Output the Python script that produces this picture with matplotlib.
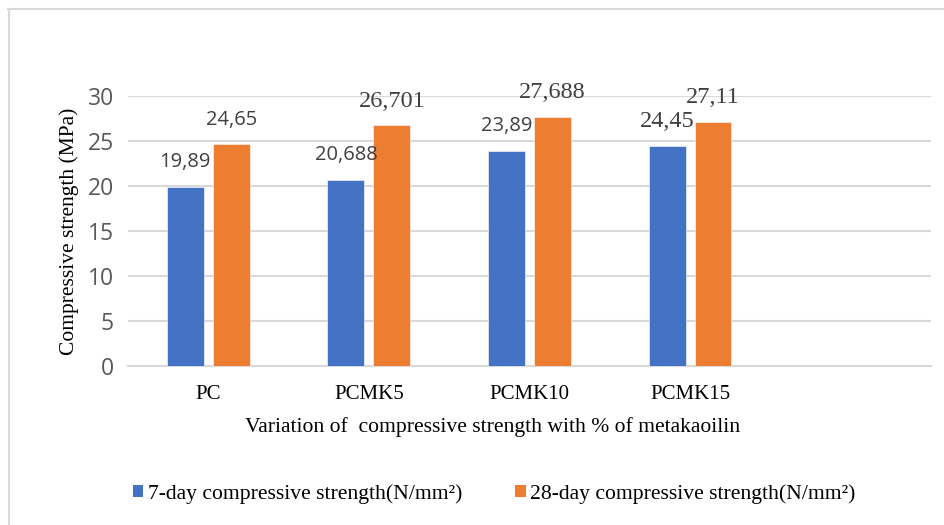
import matplotlib
matplotlib.use("Agg")
import matplotlib.pyplot as plt
from matplotlib.patches import Patch
from matplotlib.lines import Line2D
import numpy as np

# mixes and strengths (MPa); the fifth slot on the axis is left empty
mixes = ["PC", "PCMK5", "PCMK10", "PCMK15", ""]
strength_7d = [19.89, 20.688, 23.89, 24.45]
strength_28d = [24.65, 26.701, 27.688, 27.11]
# font used for each value label
label_font_7d = ["Open Sans", "Open Sans", "Open Sans", "Liberation Serif"]
label_font_28d = ["Open Sans", "Liberation Serif", "Liberation Serif", "Liberation Serif"]
series_names = ["7-day compressive strength(N/mm²)", "28-day compressive strength(N/mm²)"]

blue = "#4472C4"
orange = "#ED7D31"
grid_col = "#d9d9d9"
serif = "Liberation Serif"

fig = plt.figure(figsize=(9.45, 5.25), dpi=100)
ax = fig.add_axes([0.1354, 0.3029, 0.8497, 0.5148])

x = np.arange(len(strength_7d))
w = 0.23
off = 0.143
b1 = ax.bar(x - off, strength_7d, w, color=blue, edgecolor="white", linewidth=0.4, zorder=3)
b2 = ax.bar(x + off, strength_28d, w, color=orange, edgecolor="white", linewidth=0.4, zorder=3)

def add_labels(bars, vals, fonts, size_map):
    for rect, v, f in zip(bars, vals, fonts):
        ax.annotate(str(v).replace(".", ","),
                    (rect.get_x() + rect.get_width() / 2, v),
                    xytext=(0, 17.5), textcoords="offset points",
                    ha="center", va="center", color="#404040",
                    family=f, fontsize=size_map[f])

sizes = {"Open Sans": 14.5, "Liberation Serif": 17.5}
add_labels(b1, strength_7d, label_font_7d, sizes)
add_labels(b2, strength_28d, label_font_28d, sizes)

ax.set_xlim(-0.5, len(mixes) - 0.5)
ax.set_ylim(0, 30)
ax.set_yticks(range(0, 31, 5))
ax.set_xticks(range(len(mixes)))
ax.set_xticklabels(mixes, family=serif, fontsize=15, color="black")
for t in ax.get_yticklabels():
    t.set_family("Open Sans")
    t.set_fontsize(16.5)
    t.set_color("#595959")
ax.tick_params(axis="y", length=0, pad=10)
ax.tick_params(axis="x", length=0, pad=14)

ax.grid(axis="y", color=grid_col, linewidth=1.5, zorder=0)
for s in ["top", "right", "left"]:
    ax.spines[s].set_visible(False)
ax.spines["bottom"].set_color(grid_col)
ax.spines["bottom"].set_linewidth(1.5)

ax.set_ylabel("Compressive strength (MPa)", family=serif, fontsize=15.5, labelpad=6)
fig.text(0.521, 1 - 427 / 525, "Variation of  compressive strength with % of metakaoilin",
         family=serif, fontsize=15.6, ha="center", va="center")

handles = [Patch(facecolor=blue), Patch(facecolor=orange)]
fig.legend(handles, series_names, loc="center", bbox_to_anchor=(0.523, 1 - 494 / 525),
           ncol=2, frameon=False, prop={"family": serif, "size": 15.6},
           handlelength=0.5, handleheight=0.5, handletextpad=0.2, columnspacing=2.45)

# chart area border: top and left edges
fig.add_artist(Line2D([8 / 945, 1], [1 - 9 / 525, 1 - 9 / 525], color=grid_col, lw=1.5,
                      transform=fig.transFigure))
fig.add_artist(Line2D([9 / 945, 9 / 945], [0, 1 - 9 / 525], color=grid_col, lw=1.5,
                      transform=fig.transFigure))

fig.savefig("out.png", dpi=100)
